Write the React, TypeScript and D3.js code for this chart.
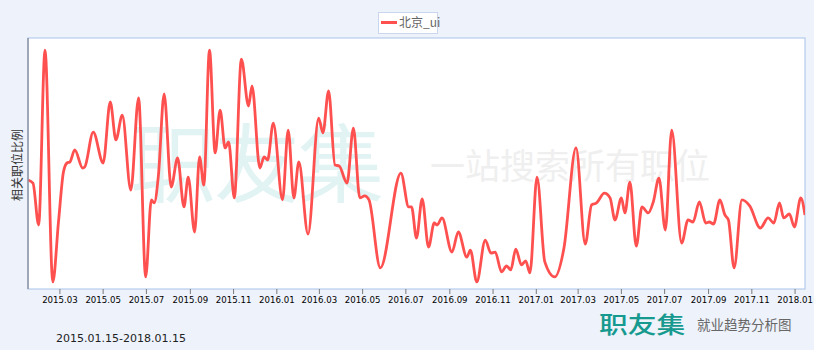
import React from "react";
import * as d3 from "d3";

// Data: days since 2015-01-15 and relative share (0-100 scale)
const startDate = "2015-01-15";
const endDate = "2018-01-15";
const daysFromStart = [
  0, 7, 15, 24, 35, 43, 50, 55, 59, 66, 77, 80, 92, 106, 116, 124, 133, 145, 156, 166,
  174, 178, 184, 192, 202, 211, 220, 226, 235, 242, 248, 256, 264, 271, 278, 283, 291, 301, 311, 316,
  327, 333, 338, 346, 359, 367, 375, 382, 395, 410, 416, 424, 433, 439, 450, 459, 468, 475, 481, 497,
  526, 537, 541, 548, 556, 565, 573, 577, 584, 598, 607, 619, 624, 633, 645, 653, 659, 668, 675, 681,
  688, 696, 702, 708, 718, 729, 743, 756, 773, 786, 795, 802, 813, 821, 828, 837, 842, 849, 858, 866,
  875, 882, 890, 899, 908, 922, 931, 938, 947, 956, 961, 967, 976, 983, 988, 996, 1007, 1018, 1033, 1044,
  1052, 1060, 1066, 1074, 1081, 1090, 1096,
];
const shareValues = [
  43.4, 42.2, 25.5, 95.2, 2.8, 26.7, 46.6, 50.2, 50.6, 55.4, 48.2, 48.6, 62.5, 50.2, 74.5, 59.4, 69.3, 39.4, 76.1, 4.8,
  35.5, 34.3, 45.4, 77.7, 40.6, 52.2, 32.7, 44.6, 22.7, 52.6, 41.4, 95.2, 54.2, 71.3, 56.2, 58.6, 36.3, 91.6, 72.9, 80.9,
  48.2, 52.6, 51.4, 66.1, 35.5, 63.3, 36.3, 50.6, 21.9, 68.1, 62.2, 78.9, 49.4, 49.0, 42.2, 64.1, 36.3, 37.1, 35.5, 8.4,
  46.2, 32.7, 32.7, 20.3, 35.9, 16.7, 26.3, 25.5, 28.3, 14.7, 22.7, 12.7, 15.5, 2.8, 19.5, 14.3, 14.7, 6.8, 9.2, 7.6,
  15.9, 9.6, 11.2, 6.4, 44.6, 10.8, 4.8, 16.3, 56.2, 17.9, 33.5, 34.3, 38.2, 36.3, 27.5, 36.3, 30.3, 42.6, 17.1, 32.7,
  30.3, 34.7, 44.2, 23.5, 63.3, 18.3, 27.5, 26.7, 34.7, 26.3, 26.7, 25.9, 35.5, 29.5, 27.5, 8.4, 35.5, 33.1, 24.3, 28.3,
  26.3, 34.3, 28.3, 29.9, 24.7, 36.3, 29.5,
];
const tickLabels = [
  "2015.03", "2015.05", "2015.07", "2015.09", "2015.11", "2016.01", "2016.03", "2016.05", "2016.07",
  "2016.09", "2016.11", "2017.01", "2017.03", "2017.05", "2017.07", "2017.09", "2017.11", "2018.01",
];
const seriesName = "北京_ui";
const yAxisTitle = "相关职位比例";
const dateRange = "2015.01.15-2018.01.15";
const brand = "职友集";
const brandSub = "就业趋势分析图";
const watermarkSlogan = "一站搜索所有职位";

const W = 814;
const H = 350;
const plot = { left: 28, top: 38, right: 805, bottom: 289 };

export default function App() {
  const parse = d3.timeParse("%Y-%m-%d");
  const start = parse(startDate)!;
  const end = parse(endDate)!;
  const x = d3.scaleTime().domain([start, end]).range([plot.left, plot.right]);
  const y = d3.scaleLinear().domain([0, 100]).range([plot.bottom, plot.top]);
  const points = daysFromStart.map((d, i) => ({ date: d3.timeDay.offset(start, d), v: shareValues[i] }));
  const line = d3
    .line<{ date: Date; v: number }>()
    .x((d) => x(d.date))
    .y((d) => y(d.v))
    .curve(d3.curveMonotoneX);
  const tickParse = d3.timeParse("%Y.%m");
  const ticks = tickLabels.map((t) => ({ t, date: tickParse(t)! }));
  const sans = "'DejaVu Sans', Verdana, sans-serif";
  const cjk = "'Noto Sans CJK SC', 'Noto Sans', sans-serif";

  return (
    <svg width={W} height={H} style={{ position: "absolute", left: 0, top: 0 }}>
      <rect x={0} y={0} width={W} height={H} fill="#eef2fa" />
      <rect
        x={plot.left}
        y={plot.top}
        width={plot.right - plot.left}
        height={plot.bottom - plot.top}
        fill="#ffffff"
        stroke="#a9c1e8"
        strokeWidth={1}
      />
      <defs>
        <clipPath id="plotClip">
          <rect x={plot.left} y={plot.top} width={plot.right - plot.left} height={plot.bottom - plot.top} />
        </clipPath>
      </defs>
      {/* watermark */}
      <g clipPath="url(#plotClip)">
        <text x={130} y={196} fontFamily={cjk} fontSize={86} fill="#e2f3f3" letterSpacing={-2}>
          {brand}
        </text>
        <text x={430} y={179} fontFamily={cjk} fontSize={35} fill="#efefef">
          {watermarkSlogan}
        </text>
      </g>
      {/* line */}
      <path
        d={line(points) || ""}
        fill="none"
        stroke="#ff5050"
        strokeWidth={2.8}
        strokeLinejoin="round"
        clipPath="url(#plotClip)"
      />
      {/* left axis */}
      <line x1={plot.left} x2={plot.left} y1={plot.top} y2={plot.bottom} stroke="#8e96a6" strokeWidth={1.5} />
      {/* x ticks */}
      {ticks.map(({ t, date }) => (
        <g key={t} transform={`translate(${x(date)},0)`}>
          <line y1={plot.bottom} y2={plot.bottom + 5} stroke="#7a7a7a" />
          <text y={303} textAnchor="middle" fontFamily={sans} fontSize={8.6} fill="#000">
            {t}
          </text>
        </g>
      ))}
      {/* y axis title */}
      <text
        transform={`translate(22,165) rotate(-90)`}
        textAnchor="middle"
        fontFamily={cjk}
        fontSize={12}
        fill="#333"
      >
        {yAxisTitle}
      </text>
      {/* legend */}
      <rect x={378.5} y={12.5} width={59} height={21} fill="#ffffff" stroke="#c9d6ee" />
      <line x1={381} x2={397} y1={22.5} y2={22.5} stroke="#ff5050" strokeWidth={3} />
      <text x={399} y={27} fontFamily={cjk} fontSize={12} fill="#666">
        {seriesName}
      </text>
      {/* footer */}
      <text x={56} y={342} fontFamily={sans} fontSize={11} fill="#222">
        {dateRange}
      </text>
      <text
        transform="translate(599,333) scale(1.25,1)"
        fontFamily={cjk}
        fontSize={23}
        fontWeight={500}
        fill="#16998f"
      >
        {brand}
      </text>
      <text x={697} y={330} fontFamily={cjk} fontSize={13.5} fill="#666">
        {brandSub}
      </text>
    </svg>
  );
}
